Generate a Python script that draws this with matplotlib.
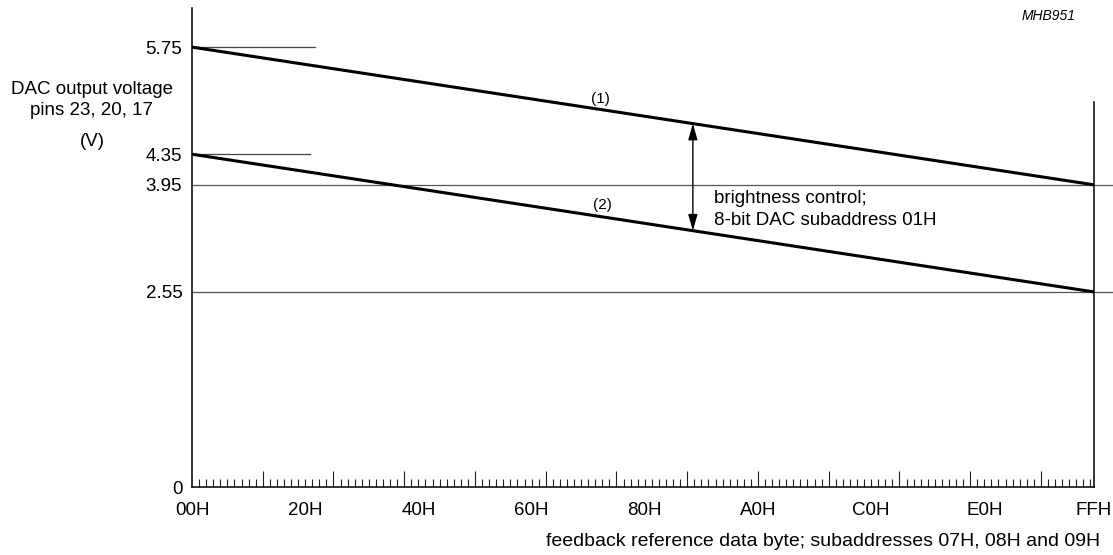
import matplotlib
matplotlib.use("Agg")
import matplotlib.pyplot as plt
import numpy as np

plt.rcParams['font.family'] = ['Liberation Sans', 'DejaVu Sans']

# ---- data ----
x_codes = [0, 255]                 # 00H .. FFH
series1 = [5.75, 3.95]             # curve (1)
series2 = [4.35, 2.55]             # curve (2)
y_ticks = [0, 2.55, 3.95, 4.35, 5.75]
y_ticklabels = ["0", "2.55", "3.95", "4.35", "5.75"]
x_label_pos = [0, 32, 64, 96, 128, 160, 192, 224, 255]
x_ticklabels = ["00H", "20H", "40H", "60H", "80H", "A0H", "C0H", "E0H", "FFH"]
ref_long = [3.95, 2.55]            # full-width reference lines
ref_short = [5.75, 4.35]           # short reference lines at the start
arrow_x = 141.6

FS = 13.5
W, H = 1113, 555
fig = plt.figure(figsize=(W / 100, H / 100), dpi=100)
px = 76.5  # pixels per volt
x0, x1 = 192, 1094
y_bot, y_top = 487, 8
ax = fig.add_axes([x0 / W, 1 - y_bot / H, (x1 - x0) / W, (y_bot - y_top) / H])
ax.set_xlim(0, 255)
ax.set_ylim(0, (y_bot - y_top) / px)

for s in ['top', 'right']:
    ax.spines[s].set_visible(False)
for s in ['left', 'bottom']:
    ax.spines[s].set_linewidth(1.1)
    ax.spines[s].set_color('black')

# reference lines
for v in ref_long:
    ax.plot([0, 260.3], [v, v], color='#555555', lw=0.9, clip_on=False, zorder=1)
ax.plot([0, 34.8], [ref_short[0]] * 2, color='#444444', lw=0.9, zorder=1)
ax.plot([0, 33.4], [ref_short[1]] * 2, color='#444444', lw=0.9, zorder=1)

# right vertical line at FFH
ax.plot([255, 255], [0, 5.03], color='black', lw=1.1, clip_on=False, zorder=2)

# curves
ax.plot(x_codes, series1, color='black', lw=2.2, solid_capstyle='butt', zorder=3)
ax.plot(x_codes, series2, color='black', lw=2.2, solid_capstyle='butt', zorder=3)

# arrow between curves
y_a1 = np.interp(arrow_x, x_codes, series1)
y_a2 = np.interp(arrow_x, x_codes, series2)
ax.annotate('', xy=(arrow_x, y_a1), xytext=(arrow_x, y_a2),
            arrowprops=dict(arrowstyle='<|-|>,head_length=0.7,head_width=0.2',
                            color='black', lw=1.0,
                            mutation_scale=14, shrinkA=0, shrinkB=0))

ax.text(147.5, 3.63, "brightness control;\n8-bit DAC subaddress 01H",
        fontsize=FS, ha='left', va='center', linespacing=1.35)
ax.text(115.5, 5.07, "(1)", fontsize=11, ha='center', va='center')
ax.text(116, 3.69, "(2)", fontsize=11, ha='center', va='center')

# y ticks
ax.set_yticks(y_ticks)
ax.set_yticklabels(y_ticklabels, fontsize=FS)
ax.tick_params(axis='y', length=0, pad=7)

# x tick marks (inward): major every 20, minor every 2
ax.set_xticks(np.arange(20, 255, 20))
ax.set_xticks(np.arange(2, 255, 2), minor=True)
ax.tick_params(axis='x', which='major', direction='in', length=11.5, width=0.8,
               labelbottom=False, color='#222222')
ax.tick_params(axis='x', which='minor', direction='in', length=5.8, width=0.8,
               color='#222222')

# x labels via secondary axis
sec = ax.secondary_xaxis('bottom')
sec.set_xticks(x_label_pos)
sec.set_xticklabels(x_ticklabels, fontsize=FS)
sec.tick_params(length=0, pad=11)
sec.spines['bottom'].set_visible(False)

# axis titles
fig.text(92 / W, 1 - 100 / H, "DAC output voltage\npins 23, 20, 17",
         fontsize=FS, ha='center', va='center', linespacing=1.3)
fig.text(92 / W, 1 - 142 / H, "(V)", fontsize=FS, ha='center', va='center')
fig.text(1100 / W, 1 - 541 / H,
         "feedback reference data byte; subaddresses 07H, 08H and 09H",
         fontsize=14, ha='right', va='center')
fig.text(1049 / W, 1 - 16 / H, "MHB951", fontsize=10, style='italic',
         ha='center', va='center')

fig.savefig("out.png", dpi=100)
